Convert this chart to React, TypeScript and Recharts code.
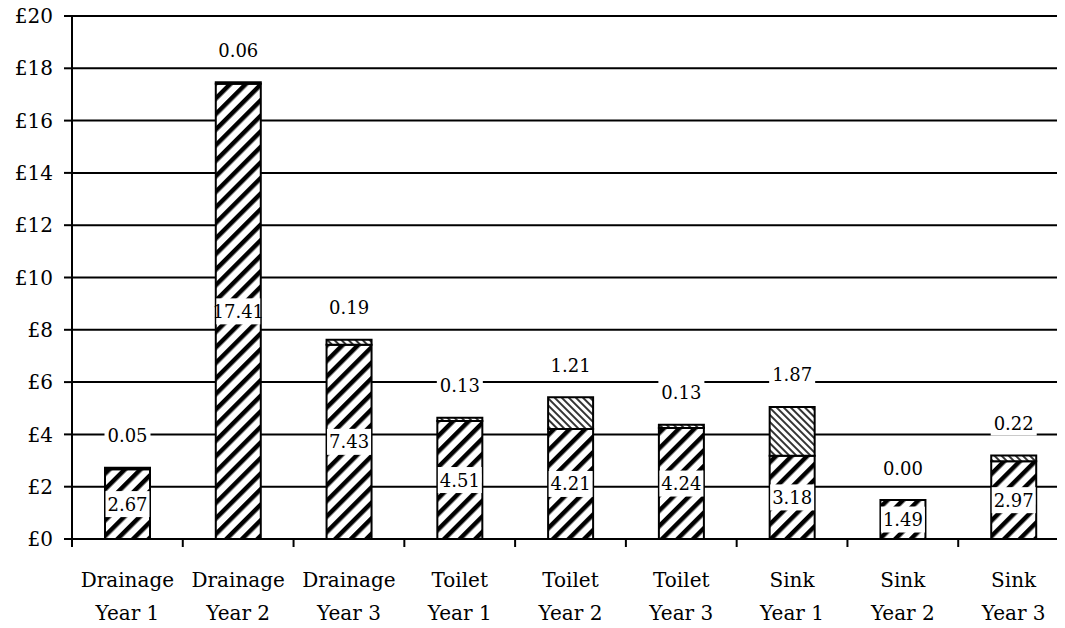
import { BarChart, Bar, XAxis, YAxis, CartesianGrid, LabelList } from 'recharts';

// values
const categories = [
  'Drainage Year 1', 'Drainage Year 2', 'Drainage Year 3',
  'Toilet Year 1', 'Toilet Year 2', 'Toilet Year 3',
  'Sink Year 1', 'Sink Year 2', 'Sink Year 3',
];
const baseCost = [2.67, 17.41, 7.43, 4.51, 4.21, 4.24, 3.18, 1.49, 2.97];
const extraCost = [0.05, 0.06, 0.19, 0.13, 1.21, 0.13, 1.87, 0.0, 0.22];
const yTicks = [0, 2, 4, 6, 8, 10, 12, 14, 16, 18, 20];

const data = categories.map((name, i) => ({ name, base: baseCost[i], extra: extraCost[i] }));

const FONT = 'DejaVu Serif';
const CHART_W = 1088;
const CHART_H = 628;
const MARGIN = { top: 16, right: 19, bottom: 0, left: 8 };
const Y_W = 64;
const BAND = (CHART_W - MARGIN.left - MARGIN.right - Y_W) / categories.length;

function CategoryTick({ x, y, payload }: any) {
  const label: string = payload.value;
  const cut = label.indexOf(' ');
  const left = x - BAND / 2;
  return (
    <g>
      <line x1={left} y1={y} x2={left} y2={y + 8} stroke="#000" strokeWidth={2} />
      <text x={x} y={y + 48} textAnchor="middle" fontSize={20} fontFamily={FONT} fill="#000">
        {label.slice(0, cut)}
      </text>
      <text x={x} y={y + 81} textAnchor="middle" fontSize={20} fontFamily={FONT} fill="#000">
        {label.slice(cut + 1)}
      </text>
    </g>
  );
}

function BaseLabel({ x, y, width, height, value }: any) {
  const cx = x + width / 2;
  const cy = y + height / 2;
  return (
    <g>
      <rect x={cx - 22} y={cy - 13} width={44} height={26} fill="#fff" />
      <text x={cx} y={cy} textAnchor="middle" dominantBaseline="central" fontSize={18} fontFamily={FONT} fill="#000">
        {Number(value).toFixed(2)}
      </text>
    </g>
  );
}

// drawn from the base segment so a zero-height top segment still gets its label
function TopLabel({ x, y, width, height, value, index }: any) {
  const extra = extraCost[index];
  const extraPx = value ? (extra * height) / value : 0;
  const cx = x + width / 2;
  const cy = y - extraPx - 32;
  return (
    <g>
      <rect x={cx - 23} y={cy - 12} width={46} height={24} fill="#fff" />
      <text x={cx} y={cy} textAnchor="middle" dominantBaseline="central" fontSize={18} fontFamily={FONT} fill="#000">
        {extra.toFixed(2)}
      </text>
    </g>
  );
}

export default function App() {
  return (
    <div style={{ width: 1065, height: CHART_H, overflow: 'hidden', background: '#fff', margin: -8 }}>
      <BarChart width={CHART_W} height={CHART_H} data={data} margin={MARGIN} barSize={45}>
        <defs>
          <pattern id="thickHatch" patternUnits="userSpaceOnUse" width={11} height={11} patternTransform="rotate(45)">
            <rect width={11} height={11} fill="#fff" />
            <rect width={4.5} height={11} fill="#000" />
          </pattern>
          <pattern id="thinHatch" patternUnits="userSpaceOnUse" width={5} height={5} patternTransform="rotate(-45)">
            <rect width={5} height={5} fill="#fff" />
            <rect width={2} height={5} fill="#333" />
          </pattern>
        </defs>
        <CartesianGrid vertical={false} stroke="#000" strokeWidth={2} />
        <XAxis
          dataKey="name"
          interval={0}
          height={89}
          tickSize={0}
          tickMargin={0}
          tickLine={false}
          axisLine={{ stroke: '#000', strokeWidth: 2 }}
          tick={<CategoryTick />}
        />
        <YAxis
          width={Y_W}
          domain={[0, 20]}
          ticks={yTicks}
          interval={0}
          tickFormatter={(v: number) => `£${v}`}
          tickSize={8}
          tickMargin={11}
          axisLine={{ stroke: '#000', strokeWidth: 2 }}
          tickLine={{ stroke: '#000', strokeWidth: 2 }}
          tick={{ fill: '#000', fontSize: 20, fontFamily: FONT }}
        />
        <Bar dataKey="base" stackId="a" fill="url(#thickHatch)" stroke="#000" strokeWidth={2} isAnimationActive={false}>
          <LabelList dataKey="base" content={<BaseLabel />} />
          <LabelList dataKey="base" content={<TopLabel />} />
        </Bar>
        <Bar dataKey="extra" stackId="a" fill="url(#thinHatch)" stroke="#000" strokeWidth={2} isAnimationActive={false} />
      </BarChart>
    </div>
  );
}
